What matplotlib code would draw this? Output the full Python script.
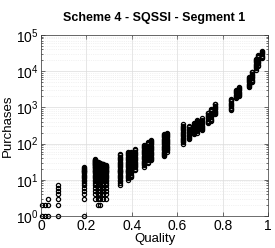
import numpy as np
import matplotlib
matplotlib.use("Agg")
import matplotlib.pyplot as plt

plt.rcParams['font.family'] = ['Liberation Sans', 'DejaVu Sans']
plt.rcParams['mathtext.fontset'] = 'custom'
plt.rcParams['mathtext.rm'] = 'Liberation Sans'
plt.rcParams['mathtext.it'] = 'Liberation Sans:italic'

# quality value of each cluster and the purchase counts seen there
quality = [0.005, 0.018, 0.03, 0.075, 0.19,
           0.238, 0.25, 0.262, 0.275, 0.288,
           0.35, 0.385, 0.395, 0.413, 0.455, 0.47, 0.485,
           0.54, 0.555, 0.625, 0.65, 0.672, 0.688, 0.71,
           0.735, 0.748, 0.768, 0.835, 0.857, 0.872,
           0.915, 0.928, 0.946, 0.955, 0.975]

purchases = [
    [1, 2],
    [1, 2],
    [1, 2, 3],
    [1, 2, 3, 4, 5, 6, 7],
    [1, 3, 4, 5, 6, 7, 8, 9, 10, 11, 12, 13, 14, 15, 16, 17, 18, 19, 20, 21, 22],
    [3, 4, 5, 6, 7, 8, 9, 10, 11, 12, 13, 14, 15, 16, 17, 18, 19, 20, 21, 22, 23, 24,
     25, 26, 27, 28, 29, 30, 31, 32, 33, 34, 35, 36, 37],
    [2, 3, 4, 5, 6, 7, 8, 9, 10, 11, 12, 13, 14, 15, 16, 17, 18, 19, 20, 21, 22, 23,
     24, 25, 26, 27, 28, 29, 30, 31, 32],
    [2, 3, 4, 5, 6, 7, 8, 9, 10, 11, 12, 13, 14, 15, 16, 17, 18, 19, 20, 21, 22, 23,
     24, 25, 26, 27, 28, 29, 30],
    [3, 4, 5, 6, 7, 8, 9, 10, 11, 12, 13, 14, 15, 16, 17, 18, 19, 20, 21, 22, 23, 24,
     25, 26, 27, 28],
    [3, 4, 5, 6, 7, 8, 9, 10, 11, 12, 13, 14, 15, 16, 17, 18, 19, 20, 21, 22, 23, 24, 25],
    [7, 8, 9, 10, 11, 12, 13, 14, 15, 16, 17, 18, 19, 20, 22, 24, 26, 28, 30, 32, 35,
     38, 41, 44, 47, 50],
    [10, 11, 12, 13, 14, 15, 16, 17, 18, 19, 20, 22, 24, 26, 28, 30, 32, 35, 38, 41,
     44, 47, 51, 55, 60],
    [12, 13, 14, 15, 16, 17, 18, 19, 20, 22, 24, 26, 28, 30, 32, 35, 38, 41, 44, 47,
     51, 55, 58],
    [19, 20, 22, 24, 26, 28, 30, 32, 35, 38, 41, 44, 47, 51, 55, 60, 65, 70],
    [23, 25, 27, 29, 31, 34, 37, 40, 43, 46, 50, 54, 58, 63, 68, 74, 80, 86, 92],
    [30, 32, 35, 38, 41, 44, 47, 51, 55, 60, 65, 70, 76, 82, 88, 95, 102, 110],
    [35, 38, 41, 44, 47, 51, 55, 60, 65, 70, 76, 82, 88, 95, 102, 110, 118, 125],
    [45, 48, 52, 56, 60, 65, 70, 76, 82, 88, 95, 102, 110, 119, 128, 138, 149, 160,
     172, 185],
    [60, 65, 70, 76, 82, 88, 95, 102, 110, 119, 128, 138, 149, 160, 172, 185, 195],
    [100, 108, 116, 125, 135, 146, 157, 170, 183, 198, 213, 230, 248, 268, 290, 313, 340],
    [130, 140, 151, 163, 176, 190, 205, 221, 239, 258, 279, 300],
    [180, 194, 210, 226, 244, 264, 285, 308, 332, 358, 380],
    [200, 216, 233, 252, 272, 294, 317, 342, 370, 400, 430, 450],
    [230, 248, 268, 290, 313, 338, 365, 394, 425, 460, 500],
    [370, 400, 432, 466, 503, 543, 587, 634, 685, 700],
    [420, 454, 490, 529, 571, 617, 666, 720, 777, 839, 900],
    [650, 702, 758, 819, 884, 955, 1031, 1114, 1203, 1250],
    [850, 918, 991, 1071, 1156, 1249, 1349, 1457, 1573, 1700],
    [1800, 1944, 2100, 2267, 2449, 2645, 2856, 3000],
    [2000, 2160, 2333, 2519, 2721, 2939, 3174, 3428, 3600],
    [3600, 3888, 4199, 4535, 4898, 5290, 5713, 6170, 6663, 7000],
    [5000, 5400, 5832, 6299, 6802, 7347, 7934, 8569, 9255, 9500],
    [11000, 11880, 12830, 13857, 14966, 16163, 17456, 18852, 20361, 22000],
    [14000, 15120, 16330, 17636, 19047, 20571, 22216, 23993, 25913, 28000],
    [23000, 24840, 26827, 28973, 31291, 33794, 36000],
]

xs = []
ys = []
for q, p in zip(quality, purchases):
    xs += [q] * len(p)
    ys += p

fig = plt.figure(figsize=(2.75, 2.48), dpi=100)
ax = fig.add_axes([0.149, 0.129, 0.826, 0.730])

ax.semilogy(xs, ys, 'o', mfc='none', mec='black', ms=3, mew=0.9, clip_on=False)

ax.set_xlim(0, 1)
ax.set_ylim(1, 1e5)
ax.set_xticks([0, 0.2, 0.4, 0.6, 0.8, 1])
ax.set_xticklabels(['0', '0.2', '0.4', '0.6', '0.8', '1'])
ax.set_yticks([1, 10, 100, 1e3, 1e4, 1e5])
ax.set_yticklabels(['$10^{%d}$' % k for k in range(6)])

ax.grid(True, which='major', color='#dcdcdc', lw=0.5)
ax.grid(True, which='minor', color='#e6e6e6', lw=0.5, ls=':')
ax.set_axisbelow(True)

ax.tick_params(which='both', direction='in', top=True, right=True,
               labelsize=10, width=0.5, color='#333333', pad=2)
ax.tick_params(which='major', length=3)
ax.tick_params(which='minor', length=1.5)
for s in ax.spines.values():
    s.set_linewidth(0.5)
    s.set_color('#333333')

ax.set_title('Scheme 4 - SQSSI - Segment 1', fontsize=9, fontweight='bold', pad=10)
ax.set_xlabel('Quality', fontsize=9.5, labelpad=0)
ax.set_ylabel('Purchases', fontsize=9.5, labelpad=1)

fig.savefig('out.png', dpi=100)
